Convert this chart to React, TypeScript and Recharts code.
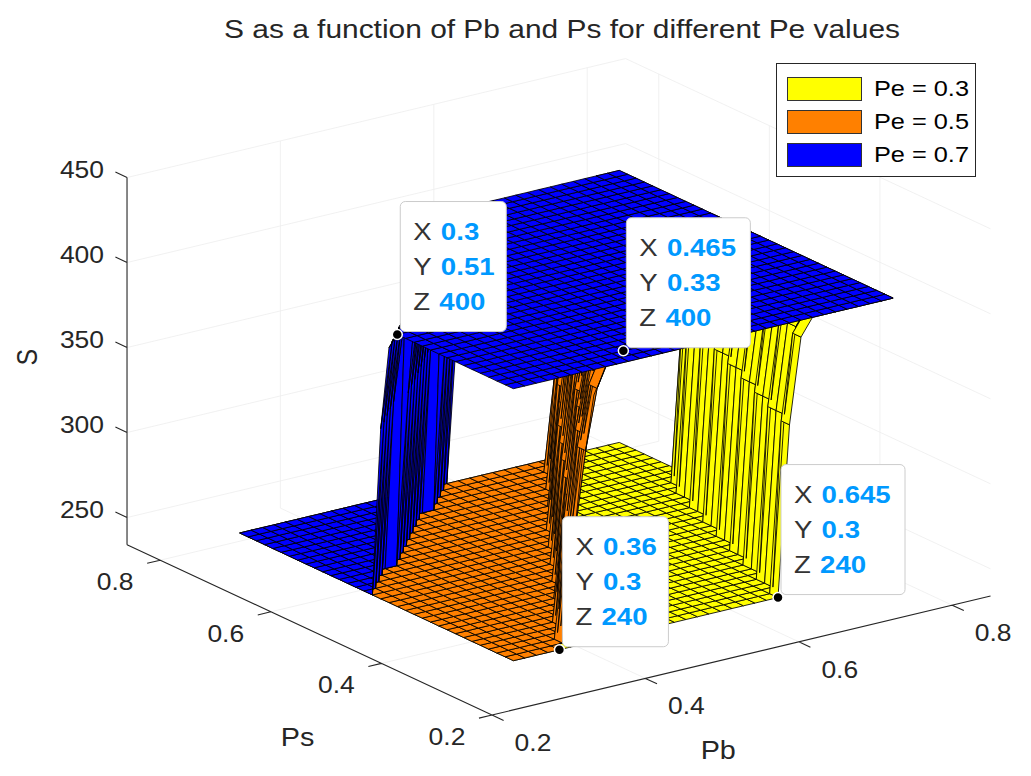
import { ScatterChart, Scatter, XAxis, YAxis } from "recharts";

const CHART_W = 1015;
const CHART_H = 760;
const PAGE_MARGIN = 8;
const FONT = '"Liberation Sans", Arial, Helvetica, sans-serif';
const TEXT_SX = 1.15;
const INK = "#262626";
const TIP_BLUE = "#0099FF";

// surface grid (Pb across, Ps along)
const PB_GRID = [
  0.3, 0.315, 0.33, 0.345, 0.36, 0.375, 0.39, 0.405, 0.42, 0.435, 0.45, 0.465,
  0.48, 0.495, 0.51, 0.525, 0.54, 0.555, 0.57, 0.585, 0.6, 0.615, 0.63, 0.645,
  0.66, 0.675, 0.69, 0.705, 0.72, 0.735, 0.75, 0.765, 0.78, 0.795,
];
const PS_GRID = [
  0.3, 0.315, 0.33, 0.345, 0.36, 0.375, 0.39, 0.405, 0.42, 0.435, 0.45, 0.465,
  0.48, 0.495, 0.51, 0.525, 0.54, 0.555, 0.57, 0.585, 0.6, 0.615, 0.63, 0.645,
  0.66, 0.675, 0.69, 0.705, 0.72, 0.735, 0.75, 0.765, 0.78, 0.795,
];

// S across the step, from the foot of the wall up to the plateau
const STEP_PE_03 = [240, 340, 390, 400];
const STEP_PE_05 = [240, 300, 350, 385, 400];
const STEP_PE_07 = [240, 340, 390, 400];

// Pb index where S starts to rise, one entry per Ps row
const FOOT_PE_03 = [
  23, 23, 24, 24, 24, 25, 25, 25, 26, 26, 26, 27, 27, 27, 28, 28, 28, 29, 29,
  29, 30, 30, 30, 31, 31, 32, 33, 34, 34, 34, 34, 34, 34, 34,
];
const FOOT_PE_05 = [
  4, 5, 5, 6, 7, 7, 8, 9, 10, 10, 11, 12, 12, 13, 14, 14, 15, 16, 16, 17, 18,
  18, 19, 20, 21, 21, 22, 23, 23, 24, 25, 25, 26, 27,
];
const FOOT_PE_07 = [
  -17, -16, -15, -14, -13, -12, -11, -10, -9, -8, -7, -6, -5, -4, -3, -2, -1,
  0, 1, 2, 3, 5, 6, 7, 8, 9, 10, 11, 12, 14, 15, 16, 17, 18,
];

const PE_NAMES = ["Pe = 0.3", "Pe = 0.5", "Pe = 0.7"];
const PE_COLORS = ["#FFFF00", "#FF8000", "#0000FF"];
const PE_FOOTS = [FOOT_PE_03, FOOT_PE_05, FOOT_PE_07];
const PE_STEPS = [STEP_PE_03, STEP_PE_05, STEP_PE_07];
const S_FLOOR = 240;
const S_PLATEAU = 400;

const PB_TICKS = [0.2, 0.4, 0.6, 0.8];
const PS_TICKS = [0.2, 0.4, 0.6, 0.8];
const S_TICKS = [250, 300, 350, 400, 450];
const PB_LIM = [0.2, 0.85];
const PS_LIM = [0.2, 0.86];
const S_LIM = [234, 450];

// data tips
const TIP_PB = [0.3, 0.465, 0.36, 0.645];
const TIP_PS = [0.51, 0.33, 0.3, 0.3];
const TIP_S = [400, 400, 240, 240];

// orthographic view: where the (Pb, Ps, S) box corner lands and how each axis runs
const VIEW = { x0: 492, y0: 715, pb: [767, -183], ps: [-553, -258], s: [0, -1.7] };

function project(pb: number, ps: number, s: number) {
  const u = pb - PB_LIM[0];
  const v = ps - PS_LIM[0];
  const w = s - S_LIM[0];
  return {
    x: VIEW.x0 + u * VIEW.pb[0] + v * VIEW.ps[0] + w * VIEW.s[0],
    y: VIEW.y0 + u * VIEW.pb[1] + v * VIEW.ps[1] + w * VIEW.s[1],
  };
}

const surfaceHeight = (step: number[], foot: number[], i: number, j: number) =>
  step[Math.min(step.length - 1, Math.max(0, i - foot[j]))];

const surfacePoints = PE_FOOTS.flatMap((foot, k) =>
  PS_GRID.flatMap((ps, j) =>
    PB_GRID.map((pb, i) => {
      const s = surfaceHeight(PE_STEPS[k], foot, i, j);
      return { ...project(pb, ps, s), k, pb, ps, s };
    })
  )
);

const TICK_LEN_PB = 0.017;
const TICK_LEN_PS = 0.021;

const gridSegments = [
  ...PB_TICKS.slice(1).flatMap((pb) => [project(pb, PS_LIM[0], S_LIM[0]), project(pb, PS_LIM[1], S_LIM[0])]),
  ...PS_TICKS.slice(1).flatMap((ps) => [project(PB_LIM[0], ps, S_LIM[0]), project(PB_LIM[1], ps, S_LIM[0])]),
  ...PB_TICKS.slice(1).flatMap((pb) => [project(pb, PS_LIM[1], S_LIM[0]), project(pb, PS_LIM[1], S_LIM[1])]),
  ...S_TICKS.flatMap((s) => [project(PB_LIM[0], PS_LIM[1], s), project(PB_LIM[1], PS_LIM[1], s)]),
  ...PS_TICKS.slice(1).flatMap((ps) => [project(PB_LIM[1], ps, S_LIM[0]), project(PB_LIM[1], ps, S_LIM[1])]),
  ...S_TICKS.flatMap((s) => [project(PB_LIM[1], PS_LIM[0], s), project(PB_LIM[1], PS_LIM[1], s)]),
];

const axisSegments = [
  project(PB_LIM[0], PS_LIM[0], S_LIM[0]), project(PB_LIM[1], PS_LIM[0], S_LIM[0]),
  project(PB_LIM[0], PS_LIM[0], S_LIM[0]), project(PB_LIM[0], PS_LIM[1], S_LIM[0]),
  project(PB_LIM[0], PS_LIM[1], S_LIM[0]), project(PB_LIM[0], PS_LIM[1], S_LIM[1]),
  ...PB_TICKS.flatMap((pb) => [project(pb, PS_LIM[0], S_LIM[0]), project(pb, PS_LIM[0] - TICK_LEN_PS, S_LIM[0])]),
  ...PS_TICKS.flatMap((ps) => [project(PB_LIM[0], ps, S_LIM[0]), project(PB_LIM[0] - TICK_LEN_PB, ps, S_LIM[0])]),
  ...S_TICKS.flatMap((s) => [project(PB_LIM[0], PS_LIM[1], s), project(PB_LIM[0], PS_LIM[1] + TICK_LEN_PS, s)]),
];

const LABEL_STYLE: Record<string, { dx: number; dy: number; anchor: string; size: number; rotate?: boolean }> = {
  pb: { dx: 41, dy: 28, anchor: "middle", size: 23 },
  ps: { dx: -45, dy: 22, anchor: "middle", size: 23 },
  s: { dx: -23, dy: -7, anchor: "end", size: 23 },
  pbTitle: { dx: -23, dy: 95, anchor: "middle", size: 25 },
  psTitle: { dx: -12, dy: 108, anchor: "middle", size: 25 },
  sTitle: { dx: -100, dy: -4, anchor: "middle", size: 25, rotate: true },
};

const axisLabels = [
  ...PB_TICKS.map((pb) => ({ ...project(pb, PS_LIM[0], S_LIM[0]), text: String(pb), kind: "pb" })),
  ...PS_TICKS.map((ps) => ({ ...project(PB_LIM[0], ps, S_LIM[0]), text: String(ps), kind: "ps" })),
  ...S_TICKS.map((s) => ({ ...project(PB_LIM[0], PS_LIM[1], s), text: String(s), kind: "s" })),
  { ...project((PB_LIM[0] + PB_LIM[1]) / 2, PS_LIM[0], S_LIM[0]), text: "Pb", kind: "pbTitle" },
  { ...project(PB_LIM[0], (PS_LIM[0] + PS_LIM[1]) / 2, S_LIM[0]), text: "Ps", kind: "psTitle" },
  { ...project(PB_LIM[0], PS_LIM[1], (S_LIM[0] + S_LIM[1]) / 2), text: "S", kind: "sTitle" },
];

const tipPoints = TIP_PB.map((pb, n) => ({
  ...project(pb, TIP_PS[n], TIP_S[n]),
  pb,
  ps: TIP_PS[n],
  s: TIP_S[n],
}));

const NoDot = () => <g />;

function SurfaceMesh(props: any) {
  const points = props.points as { x: number; y: number }[] | undefined;
  if (!points || points.length !== surfacePoints.length) return <g />;
  const n = PB_GRID.length;
  const m = PS_GRID.length;
  const floors: JSX.Element[] = [];
  const tops: JSX.Element[] = [];
  const walls: { depth: number; el: JSX.Element }[] = [];
  for (let k = 0; k < PE_FOOTS.length; k++) {
    for (let j = 0; j < m - 1; j++) {
      for (let i = 0; i < n - 1; i++) {
        const ids = [
          (k * m + j) * n + i,
          (k * m + j) * n + i + 1,
          (k * m + j + 1) * n + i + 1,
          (k * m + j + 1) * n + i,
        ];
        const d = "M" + ids.map((q) => `${points[q].x.toFixed(1)},${points[q].y.toFixed(1)}`).join("L") + "Z";
        const hs = ids.map((q) => surfacePoints[q].s);
        const el = <path key={`${k}-${j}-${i}`} d={d} fill={PE_COLORS[k]} />;
        if (Math.max(...hs) === S_FLOOR) floors.push(el);
        else if (Math.min(...hs) === S_PLATEAU) tops.push(el);
        else {
          let depth = 0;
          ids.forEach((q) => {
            const p = surfacePoints[q];
            depth += 0.721 * p.pb + p.ps - p.s / 229;
          });
          walls.push({ depth, el });
        }
      }
    }
  }
  walls.sort((a, b) => b.depth - a.depth);
  return (
    <g stroke="#000" strokeWidth={0.85} strokeLinejoin="round">
      {floors}
      {walls.map((w) => w.el)}
      {tops}
    </g>
  );
}

function segmentsPath(points: { x: number; y: number }[]) {
  let d = "";
  for (let q = 0; q + 1 < points.length; q += 2) {
    d += `M${points[q].x},${points[q].y}L${points[q + 1].x},${points[q + 1].y}`;
  }
  return d;
}

const GridLines = (props: any) =>
  props.points ? <path d={segmentsPath(props.points)} stroke="#ededed" strokeWidth={0.8} fill="none" /> : <g />;

const AxisLines = (props: any) =>
  props.points ? <path d={segmentsPath(props.points)} stroke={INK} strokeWidth={1.1} fill="none" /> : <g />;

function AxisLabel(props: any) {
  const { cx, cy, payload } = props;
  const st = LABEL_STYLE[payload.kind];
  const x = cx + st.dx;
  const y = cy + st.dy;
  return (
    <text
      transform={`translate(${x},${y}) scale(${TEXT_SX},1)${st.rotate ? " rotate(-90)" : ""}`}
      textAnchor={st.anchor}
      dominantBaseline="central"
      fontSize={st.size}
      fontFamily={FONT}
      fill={INK}
    >
      {payload.text}
    </text>
  );
}

function DataTip(props: any) {
  const { cx, cy, payload } = props;
  const rows = [
    ["X", String(payload.pb)],
    ["Y", String(payload.ps)],
    ["Z", String(payload.s)],
  ];
  const maxLen = Math.max(...rows.map((r) => r[1].length));
  const w = 34 + 18 * maxLen;
  const h = 130;
  const left = cx + 3;
  const top = cy - 3 - h;
  return (
    <g>
      <rect x={left} y={top} width={w} height={h} rx={5} fill="#fff" stroke="#cccccc" />
      {rows.map(([k, v], r) => (
        <text
          key={k}
          transform={`translate(${left + 13},${top + 30 + r * 35}) scale(${TEXT_SX},1)`}
          dominantBaseline="central"
          fontSize={24}
          fontFamily={FONT}
        >
          <tspan fill="#333">{k}</tspan>
          <tspan dx={8} fill={TIP_BLUE} fontWeight="bold">
            {v}
          </tspan>
        </text>
      ))}
      <circle cx={cx} cy={cy} r={5} fill="#000" stroke="#fff" strokeWidth={1.5} />
    </g>
  );
}

export default function App() {
  return (
    <div style={{ position: "relative", width: CHART_W, height: CHART_H, fontFamily: FONT }}>
      <ScatterChart width={CHART_W} height={CHART_H} margin={{ top: 0, right: 0, bottom: 0, left: 0 }}>
        <XAxis
          type="number"
          dataKey="x"
          domain={[PAGE_MARGIN, PAGE_MARGIN + CHART_W]}
          allowDataOverflow
          hide
        />
        <YAxis
          type="number"
          dataKey="y"
          domain={[PAGE_MARGIN, PAGE_MARGIN + CHART_H]}
          allowDataOverflow
          reversed
          hide
        />
        <Scatter data={gridSegments} shape={NoDot} line={GridLines} isAnimationActive={false} />
        <Scatter data={axisSegments} shape={NoDot} line={AxisLines} isAnimationActive={false} />
        <Scatter data={surfacePoints} shape={NoDot} line={SurfaceMesh} isAnimationActive={false} />
        <Scatter data={axisLabels} shape={AxisLabel} isAnimationActive={false} />
        <Scatter data={tipPoints} shape={DataTip} isAnimationActive={false} />
      </ScatterChart>

      <div
        style={{
          position: "absolute",
          left: 154,
          top: 6,
          width: 800,
          textAlign: "center",
          fontSize: 26,
          lineHeight: "30px",
          color: INK,
          transform: `scaleX(${TEXT_SX})`,
        }}
      >
        S as a function of Pb and Ps for different Pe values
      </div>

      <div
        style={{
          position: "absolute",
          left: 768,
          top: 55,
          width: 200,
          height: 114,
          border: `1px solid ${INK}`,
          background: "#fff",
          boxSizing: "border-box",
        }}
      >
        {PE_NAMES.map((name, n) => (
          <div key={name} style={{ position: "absolute", left: 10, top: 13 + n * 33, height: 24, width: 185 }}>
            <div
              style={{
                position: "absolute",
                left: 0,
                top: 0,
                width: 75,
                height: 24,
                background: PE_COLORS[n],
                border: "1px solid #333",
                boxSizing: "border-box",
              }}
            />
            <div
              style={{
                position: "absolute",
                left: 87,
                top: -2,
                fontSize: 22,
                lineHeight: "28px",
                color: "#000",
                whiteSpace: "nowrap",
                transform: `scaleX(${TEXT_SX})`,
                transformOrigin: "left center",
              }}
            >
              {name}
            </div>
          </div>
        ))}
      </div>
    </div>
  );
}
